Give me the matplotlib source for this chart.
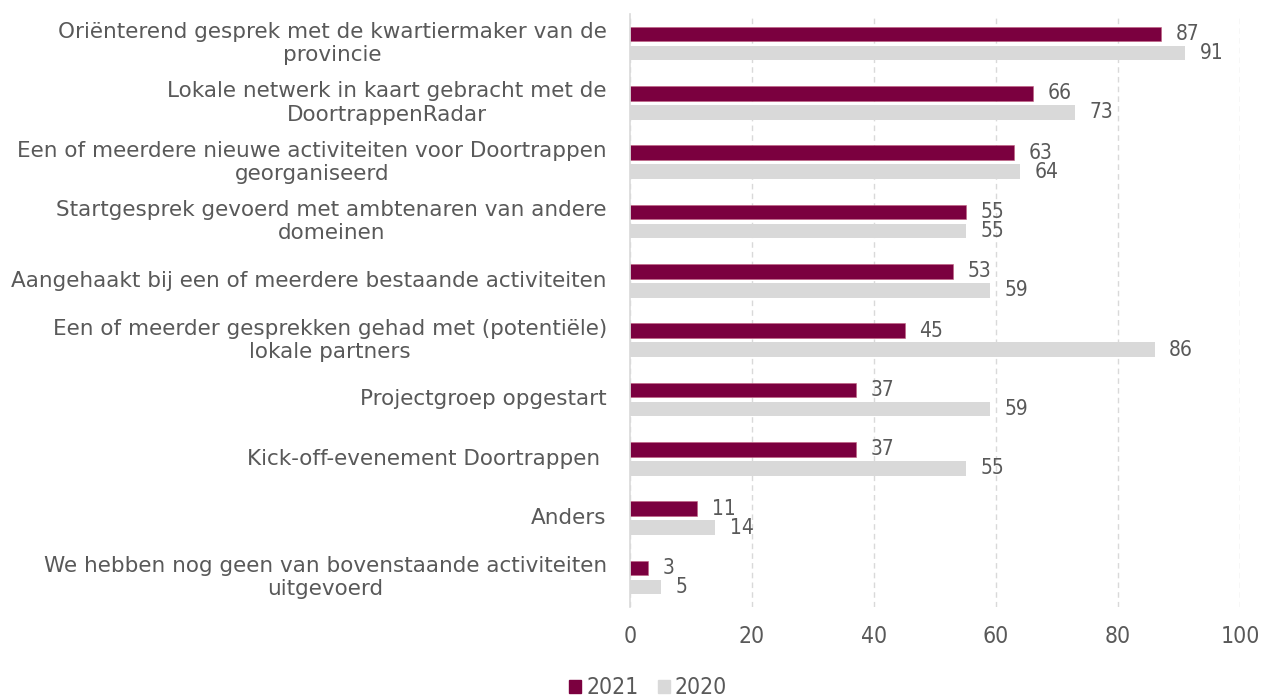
import matplotlib
matplotlib.use("Agg")
import matplotlib.pyplot as plt
import numpy as np
from matplotlib.patches import Patch

categories = [
    "Oriënterend gesprek met de kwartiermaker van de\nprovincie",
    "Lokale netwerk in kaart gebracht met de\nDoortrappenRadar",
    "Een of meerdere nieuwe activiteiten voor Doortrappen\ngeorganiseerd",
    "Startgesprek gevoerd met ambtenaren van andere\ndomeinen",
    "Aangehaakt bij een of meerdere bestaande activiteiten",
    "Een of meerder gesprekken gehad met (potentiële)\nlokale partners",
    "Projectgroep opgestart",
    "Kick-off-evenement Doortrappen ",
    "Anders",
    "We hebben nog geen van bovenstaande activiteiten\nuitgevoerd",
]
values_2021 = [87, 66, 63, 55, 53, 45, 37, 37, 11, 3]
values_2020 = [91, 73, 64, 55, 59, 86, 59, 55, 14, 5]
series_names = ["2021", "2020"]
x_ticks = [0, 20, 40, 60, 80, 100]

c2021 = "#7B003F"
c2020 = "#D9D9D9"
text_color = "#595959"
FONT = "DejaVu Sans"

fig = plt.figure(figsize=(12.63, 6.98), dpi=100)
ax = fig.add_axes([630 / 1263, 1 - 607 / 698, 610 / 1263, 593 / 698])

y = np.arange(len(categories))
h = 0.245
off = 0.16
b1 = ax.barh(y - off, values_2021, height=h, color=c2021, edgecolor="#C06080", linewidth=0.4)
b2 = ax.barh(y + off, values_2020, height=h, color=c2020)

for bars, vals in ((b1, values_2021), (b2, values_2020)):
    for bar, v in zip(bars, vals):
        ax.annotate(f"{v}", xy=(bar.get_width(), bar.get_y() + bar.get_height() / 2),
                    xytext=(10.5, 0), textcoords="offset points", ha="left", va="center",
                    fontsize=15, color=text_color, family=FONT, stretch="condensed")

ax.set_xlim(0, 100)
ax.set_ylim(len(categories) - 0.5, -0.5)
ax.set_xticks(x_ticks)
ax.set_xticklabels([str(t) for t in x_ticks], fontsize=16.5, color=text_color,
                   family=FONT, stretch="condensed")
ax.tick_params(axis="x", length=0, pad=13)
ax.set_yticks([])
for i, lab in enumerate(categories):
    ax.text(-0.038, i, lab, transform=ax.get_yaxis_transform(), ha="right", va="center",
            multialignment="center", fontsize=15.5, color=text_color, family=FONT,
            linespacing=1.2)

ax.xaxis.grid(True, color="#D9D9D9", linestyle=(0, (4, 3)), linewidth=1)
ax.set_axisbelow(True)
for s in ("top", "right", "bottom"):
    ax.spines[s].set_visible(False)
ax.spines["left"].set_color("#D9D9D9")
ax.spines["left"].set_linewidth(1.2)

handles = [Patch(color=c2021), Patch(color=c2020)]
fig.legend(handles, series_names, loc="center", bbox_to_anchor=(648 / 1263, 1 - 688 / 698),
           ncol=2, frameon=False, handlelength=0.52, handleheight=0.52,
           handletextpad=0.22, columnspacing=0.85, labelcolor=text_color,
           borderpad=0, prop={"family": FONT, "size": 16.5, "stretch": "condensed"})

fig.savefig("out.png", dpi=100)
